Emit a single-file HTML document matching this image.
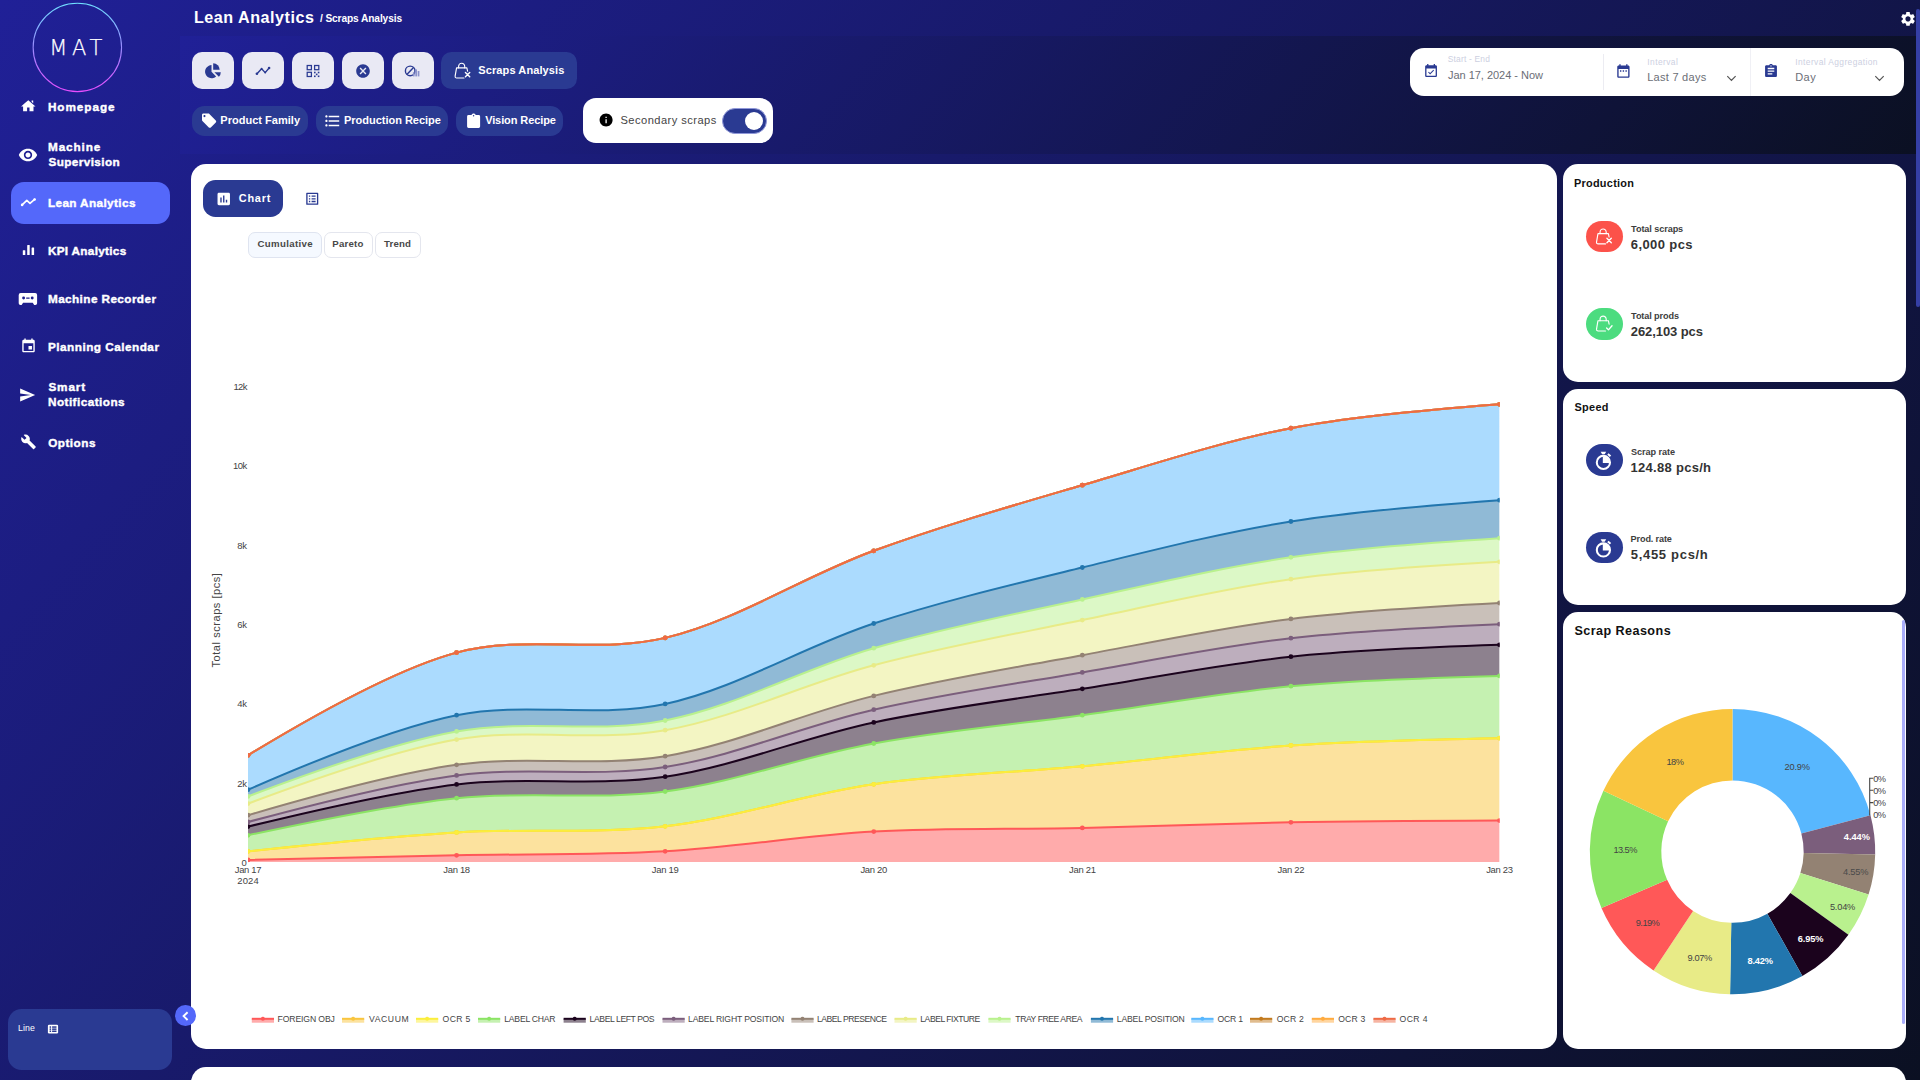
<!DOCTYPE html>
<html lang="en"><head><meta charset="utf-8"><title>Lean Analytics - Scraps Analysis</title>
<style>
*{box-sizing:border-box;margin:0;padding:0}
html,body{width:1920px;height:1080px;overflow:hidden}
body{position:relative;font-family:"Liberation Sans",sans-serif;background:linear-gradient(130.8deg,#202097 0%,#0b1022 100%);color:#fff}
.t{position:absolute;white-space:nowrap}
.i{position:absolute;display:block}
.abs{position:absolute}
.card{position:absolute;background:#fff;border-radius:14px}
</style></head><body>

<div class="abs" style="left:180px;top:36px;width:1740px;height:117.6px;background:linear-gradient(130.8deg,#202097 0%,#0b1022 100%)"></div>
<div class="abs" style="left:1916px;top:9px;width:4px;height:298px;background:#353fa5;border-radius:2px 2px 2px 2px"></div>
<svg class="i" style="left:30px;top:0px" width="96" height="96" viewBox="30 0 96 96"><defs><linearGradient id="lg" x1="0" y1="0" x2="0" y2="1"><stop offset="0" stop-color="#6fe0ff"/><stop offset="0.5" stop-color="#9a8cff"/><stop offset="1" stop-color="#e84dff"/></linearGradient></defs><circle cx="77.35" cy="47.45" r="44.2" fill="none" stroke="url(#lg)" stroke-width="1.1"/></svg>
<div class="t" style="left:49.14px;top:36px;height:24px;line-height:24px;font-size:21.01px;letter-spacing:4.790px;color:#fff;font-family:'DejaVu Sans Light','DejaVu Sans',sans-serif;font-weight:200;-webkit-text-stroke:0.25px #fff;">MAT</div>
<div class="abs" style="left:11px;top:182px;width:159.00px;height:41.80px;border-radius:13px;background:#5468fa;"></div>
<div class="t" style="left:47.94px;top:100px;height:13px;line-height:13px;font-size:11.75px;letter-spacing:0.939px;color:#fff;font-weight:700;-webkit-text-stroke:0.4px #fff;">Homepage</div>
<div class="t" style="left:47.94px;top:140px;height:13px;line-height:13px;font-size:11.75px;letter-spacing:0.903px;color:#fff;font-weight:700;-webkit-text-stroke:0.4px #fff;">Machine</div>
<div class="t" style="left:48.41px;top:155px;height:13px;line-height:13px;font-size:11.75px;letter-spacing:0.403px;color:#fff;font-weight:700;-webkit-text-stroke:0.4px #fff;">Supervision</div>
<div class="t" style="left:47.94px;top:196px;height:13px;line-height:13px;font-size:11.75px;letter-spacing:0.384px;color:#fff;font-weight:700;-webkit-text-stroke:0.4px #fff;">Lean Analytics</div>
<div class="t" style="left:47.94px;top:244px;height:13px;line-height:13px;font-size:11.75px;letter-spacing:0.300px;color:#fff;font-weight:700;-webkit-text-stroke:0.4px #fff;">KPI Analytics</div>
<div class="t" style="left:47.94px;top:292px;height:13px;line-height:13px;font-size:11.75px;letter-spacing:0.411px;color:#fff;font-weight:700;-webkit-text-stroke:0.4px #fff;">Machine Recorder</div>
<div class="t" style="left:47.94px;top:340px;height:13px;line-height:13px;font-size:11.75px;letter-spacing:0.492px;color:#fff;font-weight:700;-webkit-text-stroke:0.4px #fff;">Planning Calendar</div>
<div class="t" style="left:48.41px;top:380px;height:13px;line-height:13px;font-size:11.75px;letter-spacing:0.850px;color:#fff;font-weight:700;-webkit-text-stroke:0.4px #fff;">Smart</div>
<div class="t" style="left:47.94px;top:395px;height:13px;line-height:13px;font-size:11.75px;letter-spacing:0.461px;color:#fff;font-weight:700;-webkit-text-stroke:0.4px #fff;">Notifications</div>
<div class="t" style="left:48.23px;top:436px;height:13px;line-height:13px;font-size:11.75px;letter-spacing:0.471px;color:#fff;font-weight:700;-webkit-text-stroke:0.4px #fff;">Options</div>
<div class="abs" style="left:7.8px;top:1008.9px;width:164.10px;height:61.10px;border-radius:13.5px;background:#2a3a92;"></div>
<div class="t" style="left:18.05px;top:1023px;height:10px;line-height:10px;font-size:8.74px;letter-spacing:0.127px;color:#fff;">Line</div>
<div class="abs" style="left:175px;top:1005.1px;width:20.8px;height:20.8px;border-radius:50%;background:#5468fa;z-index:5"></div>
<div class="t" style="left:193.95px;top:8px;height:18px;line-height:18px;font-size:16.12px;letter-spacing:0.527px;color:#fff;font-weight:700;">Lean Analytics</div>
<div class="t" style="left:319.95px;top:13px;height:11px;line-height:11px;font-size:10.19px;letter-spacing:-0.107px;color:#fff;font-weight:700;">/ Scraps Analysis</div>
<div class="abs" style="left:192px;top:52px;width:42.00px;height:37.00px;border-radius:10px;background:#e9e9f4;"></div>
<div class="abs" style="left:242px;top:52px;width:42.00px;height:37.00px;border-radius:10px;background:#e9e9f4;"></div>
<div class="abs" style="left:292px;top:52px;width:42.00px;height:37.00px;border-radius:10px;background:#e9e9f4;"></div>
<div class="abs" style="left:342px;top:52px;width:42.00px;height:37.00px;border-radius:10px;background:#e9e9f4;"></div>
<div class="abs" style="left:392px;top:52px;width:42.00px;height:37.00px;border-radius:10px;background:#e9e9f4;"></div>
<div class="abs" style="left:440.9px;top:52px;width:135.80px;height:36.80px;border-radius:10.5px;background:#2a3a92;"></div>
<div class="t" style="left:478.32px;top:64px;height:12px;line-height:12px;font-size:11.02px;letter-spacing:0.094px;color:#fff;font-weight:700;">Scraps Analysis</div>
<div class="abs" style="left:192px;top:106.4px;width:116.20px;height:29.50px;border-radius:12.5px;background:#2a3a92;"></div>
<div class="abs" style="left:316.3px;top:106.4px;width:131.70px;height:29.50px;border-radius:12.5px;background:#2a3a92;"></div>
<div class="abs" style="left:455.9px;top:106.4px;width:107.20px;height:29.50px;border-radius:12.5px;background:#2a3a92;"></div>
<div class="t" style="left:220.28px;top:114px;height:12px;line-height:12px;font-size:11.02px;letter-spacing:0.015px;color:#fff;font-weight:700;">Product Family</div>
<div class="t" style="left:343.98px;top:114px;height:12px;line-height:12px;font-size:11.02px;letter-spacing:-0.026px;color:#fff;font-weight:700;">Production Recipe</div>
<div class="t" style="left:485.14px;top:114px;height:12px;line-height:12px;font-size:11.02px;letter-spacing:-0.107px;color:#fff;font-weight:700;">Vision Recipe</div>
<div class="abs" style="left:583.1px;top:97.8px;width:189.80px;height:44.80px;border-radius:13px;background:#fff;"></div>
<div class="t" style="left:620.50px;top:114px;height:12px;line-height:12px;font-size:11.13px;letter-spacing:0.446px;color:#444;">Secondary scraps</div>
<div class="abs" style="left:721.9px;top:108px;width:44.80px;height:26.00px;border-radius:13px;background:#2a3a92;border:1.6px solid #8f97d8;"></div>
<div class="abs" style="left:744.5px;top:111.7px;width:18.6px;height:18.6px;border-radius:50%;background:#fff"></div>
<div class="abs" style="left:1410.1px;top:47.9px;width:494.00px;height:47.90px;border-radius:14px;background:#fff;"></div>
<div class="abs" style="left:1603px;top:53.5px;width:1px;height:36px;background:#ececf2"></div>
<div class="abs" style="left:1750px;top:48px;width:1px;height:47.6px;background:#f0f0f5"></div>
<div class="t" style="left:1447.72px;top:54px;height:10px;line-height:10px;font-size:8.42px;letter-spacing:0.194px;color:#cdd0df;">Start - End</div>
<div class="t" style="left:1447.93px;top:69px;height:12px;line-height:12px;font-size:11.02px;letter-spacing:-0.025px;color:#6b6e76;">Jan 17, 2024 - Now</div>
<div class="t" style="left:1647.34px;top:57px;height:10px;line-height:10px;font-size:8.42px;letter-spacing:0.413px;color:#cdd0df;">Interval</div>
<div class="t" style="left:1647.22px;top:71px;height:12px;line-height:12px;font-size:11.02px;letter-spacing:0.260px;color:#6b6e76;">Last 7 days</div>
<div class="t" style="left:1795.34px;top:57px;height:10px;line-height:10px;font-size:8.42px;letter-spacing:0.388px;color:#cdd0df;">Interval Aggregation</div>
<div class="t" style="left:1795.22px;top:71px;height:12px;line-height:12px;font-size:11.02px;letter-spacing:0.433px;color:#6b6e76;">Day</div>
<div class="abs" style="left:191px;top:164px;width:1366.30px;height:885.20px;border-radius:15px;background:#fff;"></div>
<div class="abs" style="left:1563.2px;top:164px;width:343.10px;height:217.60px;border-radius:15px;background:#fff;"></div>
<div class="abs" style="left:1563.2px;top:388.6px;width:343.10px;height:216.30px;border-radius:15px;background:#fff;"></div>
<div class="abs" style="left:1563.2px;top:611.5px;width:343.10px;height:437.70px;border-radius:15px;background:#fff;"></div>
<div class="abs" style="left:191px;top:1067px;width:1715.30px;height:43.00px;border-radius:15px;background:#fff;"></div>
<div class="abs" style="left:1902.1px;top:620px;width:3.30px;height:404.00px;border-radius:1.6px;background:#a9adf9;"></div>
<div class="abs" style="left:203px;top:180px;width:80.00px;height:36.70px;border-radius:12.5px;background:#2a3a92;"></div>
<div class="t" style="left:238.76px;top:192px;height:12px;line-height:12px;font-size:10.92px;letter-spacing:0.773px;color:#fff;font-weight:700;">Chart</div>
<div class="abs" style="left:248.3px;top:232px;width:73.90px;height:26.00px;border-radius:7px;background:#f5f9ff;border:1px solid #dfe4f0;"></div>
<div class="abs" style="left:323.8px;top:232px;width:49.20px;height:26.00px;border-radius:7px;background:#fff;border:1px solid #e4e6ee;"></div>
<div class="abs" style="left:374.7px;top:232px;width:46.60px;height:26.00px;border-radius:7px;background:#fff;border:1px solid #e4e6ee;"></div>
<div class="t" style="left:257.41px;top:238px;height:11px;line-height:11px;font-size:9.67px;letter-spacing:0.362px;color:#484848;font-weight:700;">Cumulative</div>
<div class="t" style="left:332.37px;top:238px;height:11px;line-height:11px;font-size:9.67px;letter-spacing:0.179px;color:#484848;font-weight:700;">Pareto</div>
<div class="t" style="left:384.10px;top:238px;height:11px;line-height:11px;font-size:9.67px;letter-spacing:0.131px;color:#484848;font-weight:700;">Trend</div>
<div class="abs" style="left:191px;top:164px;width:1366px;height:880px">
<svg class="plot" width="1366" height="880" viewBox="191 164 1366 880" style="position:absolute;left:0;top:0">
<defs><clipPath id="pc"><rect x="248" y="380" width="1251.7" height="482.3"/></clipPath></defs>
<g clip-path="url(#pc)">
<path d="M248.00,860.00Q387.05,856.75 456.58,855.30C526.11,853.85 595.71,855.24 665.16,851.30C734.76,847.35 804.14,835.50 873.74,831.60C943.19,827.71 1012.80,829.45 1082.32,827.90C1151.85,826.35 1221.37,823.52 1290.90,822.30Q1360.42,821.08 1499.48,820.60L1499.48,862.0L248.00,862.0Z" fill="rgba(255,88,88,0.5)"/>
<path d="M248.00,851.30Q386.99,836.57 456.58,832.40C526.04,828.24 595.97,834.22 665.16,826.30C735.03,818.30 803.93,794.31 873.74,784.30C942.99,774.37 1012.81,772.76 1082.32,766.30C1151.87,759.83 1221.30,750.18 1290.90,745.50Q1360.35,740.83 1499.48,738.20L1499.48,820.60Q1360.42,821.08 1290.90,822.30C1221.37,823.52 1151.85,826.35 1082.32,827.90C1012.80,829.45 943.19,827.71 873.74,831.60C804.14,835.50 734.76,847.35 665.16,851.30C595.71,855.24 526.11,853.85 456.58,855.30Q387.05,856.75 248.00,860.00Z" fill="rgba(249,197,62,0.5)"/>
<path d="M248.00,851.30Q386.99,836.57 456.58,832.40C526.04,828.24 595.97,834.22 665.16,826.30C735.03,818.30 803.93,794.31 873.74,784.30C942.99,774.37 1012.81,772.76 1082.32,766.30C1151.87,759.83 1221.30,750.18 1290.90,745.50Q1360.35,740.83 1499.48,738.20L1499.48,738.20Q1360.35,740.83 1290.90,745.50C1221.30,750.18 1151.87,759.83 1082.32,766.30C1012.81,772.76 942.99,774.37 873.74,784.30C803.93,794.31 735.03,818.30 665.16,826.30C595.97,834.22 526.04,828.24 456.58,832.40Q386.99,836.57 248.00,851.30Z" fill="rgba(251,238,60,0.5)"/>
<path d="M248.00,835.30Q386.79,805.49 456.58,798.20C525.85,790.97 596.07,800.47 665.16,791.50C735.13,782.41 803.92,756.24 873.74,743.50C942.98,730.86 1012.80,724.75 1082.32,715.20C1151.85,705.65 1221.23,692.75 1290.90,686.20Q1360.28,679.68 1499.48,675.90L1499.48,738.20Q1360.35,740.83 1290.90,745.50C1221.30,750.18 1151.87,759.83 1082.32,766.30C1012.81,772.76 942.99,774.37 873.74,784.30C803.93,794.31 735.03,818.30 665.16,826.30C595.97,834.22 526.04,828.24 456.58,832.40Q386.99,836.57 248.00,851.30Z" fill="rgba(139,228,100,0.5)"/>
<path d="M248.00,826.60Q386.71,792.70 456.58,784.40C525.77,776.18 596.18,786.83 665.16,776.70C735.25,766.41 803.86,737.09 873.74,722.40C942.92,707.86 1012.77,699.75 1082.32,688.80C1151.83,677.85 1221.20,664.03 1290.90,656.70Q1360.25,649.40 1499.48,644.80L1499.48,675.90Q1360.28,679.68 1290.90,686.20C1221.23,692.75 1151.85,705.65 1082.32,715.20C1012.80,724.75 942.98,730.86 873.74,743.50C803.92,756.24 735.13,782.41 665.16,791.50C596.07,800.47 525.85,790.97 456.58,798.20Q386.79,805.49 248.00,835.30Z" fill="rgba(27,3,29,0.5)"/>
<path d="M248.00,822.00Q386.64,784.55 456.58,775.40C525.70,766.36 596.24,777.71 665.16,767.00C735.32,756.10 803.85,725.51 873.74,709.70C942.91,694.05 1012.75,684.32 1082.32,672.40C1151.80,660.49 1221.18,646.24 1290.90,638.20Q1360.24,630.21 1499.48,624.20L1499.48,644.80Q1360.25,649.40 1290.90,656.70C1221.20,664.03 1151.83,677.85 1082.32,688.80C1012.77,699.75 942.92,707.86 873.74,722.40C803.86,737.09 735.25,766.41 665.16,776.70C596.18,786.83 525.77,776.18 456.58,784.40Q386.71,792.70 248.00,826.60Z" fill="rgba(123,94,124,0.5)"/>
<path d="M248.00,815.20Q386.57,774.61 456.58,764.80C525.63,755.13 596.30,767.41 665.16,756.20C735.38,744.77 803.84,712.79 873.74,695.90C942.90,679.19 1012.73,668.04 1082.32,655.20C1151.78,642.38 1221.16,627.61 1290.90,618.90Q1360.22,610.25 1499.48,603.00L1499.48,624.20Q1360.24,630.21 1290.90,638.20C1221.18,646.24 1151.80,660.49 1082.32,672.40C1012.75,684.32 942.91,694.05 873.74,709.70C803.85,725.51 735.32,756.10 665.16,767.00C596.24,777.71 525.70,766.36 456.58,775.40Q386.64,784.55 248.00,822.00Z" fill="rgba(147,130,115,0.5)"/>
<path d="M248.00,803.60Q386.27,751.77 456.58,739.60C525.36,727.70 596.40,742.24 665.16,730.20C735.49,717.88 803.80,683.72 873.74,665.30C942.87,647.09 1012.72,634.46 1082.32,620.10C1151.78,605.77 1221.10,588.92 1290.90,579.20Q1360.16,569.55 1499.48,561.80L1499.48,603.00Q1360.22,610.25 1290.90,618.90C1221.16,627.61 1151.78,642.38 1082.32,655.20C1012.73,668.04 942.90,679.19 873.74,695.90C803.84,712.79 735.38,744.77 665.16,756.20C596.30,767.41 525.63,755.13 456.58,764.80Q386.57,774.61 248.00,815.20Z" fill="rgba(232,235,135,0.5)"/>
<path d="M248.00,796.40Q386.25,743.99 456.58,731.40C525.34,719.09 596.57,733.90 665.16,720.50C735.68,706.72 803.68,668.48 873.74,648.20C942.75,628.22 1012.68,614.57 1082.32,599.40C1151.73,584.28 1221.10,567.51 1290.90,557.30Q1360.15,547.17 1499.48,538.20L1499.48,561.80Q1360.16,569.55 1290.90,579.20C1221.10,588.92 1151.78,605.77 1082.32,620.10C1012.72,634.46 942.87,647.09 873.74,665.30C803.80,683.72 735.49,717.88 665.16,730.20C596.40,742.24 525.36,727.70 456.58,739.60Q386.27,751.77 248.00,803.60Z" fill="rgba(185,241,142,0.5)"/>
<path d="M248.00,789.70Q386.01,729.40 456.58,715.20C525.12,701.41 596.77,718.55 665.16,703.90C735.91,688.75 803.60,646.36 873.74,623.50C942.68,601.03 1012.60,584.54 1082.32,567.50C1151.66,550.56 1221.05,532.73 1290.90,521.50Q1360.11,510.37 1499.48,500.20L1499.48,538.20Q1360.15,547.17 1290.90,557.30C1221.10,567.51 1151.73,584.28 1082.32,599.40C1012.68,614.57 942.75,628.22 873.74,648.20C803.68,668.48 735.68,706.72 665.16,720.50C596.57,733.90 525.34,719.09 456.58,731.40Q386.25,743.99 248.00,796.40Z" fill="rgba(34,118,174,0.5)"/>
<path d="M248.00,755.30Q385.11,671.91 456.58,652.60C524.36,634.28 596.94,654.09 665.16,637.90C736.09,621.07 803.63,576.40 873.74,550.80C942.70,525.62 1012.60,505.68 1082.32,485.20C1151.65,464.83 1220.85,441.70 1290.90,428.20Q1359.92,414.90 1499.48,404.30L1499.48,500.20Q1360.11,510.37 1290.90,521.50C1221.05,532.73 1151.66,550.56 1082.32,567.50C1012.60,584.54 942.68,601.03 873.74,623.50C803.60,646.36 735.91,688.75 665.16,703.90C596.77,718.55 525.12,701.41 456.58,715.20Q386.01,729.40 248.00,789.70Z" fill="rgba(88,183,254,0.5)"/>
<path d="M248.00,755.30Q385.11,671.91 456.58,652.60C524.36,634.28 596.94,654.09 665.16,637.90C736.09,621.07 803.63,576.40 873.74,550.80C942.70,525.62 1012.60,505.68 1082.32,485.20C1151.65,464.83 1220.85,441.70 1290.90,428.20Q1359.92,414.90 1499.48,404.30L1499.48,404.30Q1359.92,414.90 1290.90,428.20C1220.85,441.70 1151.65,464.83 1082.32,485.20C1012.60,505.68 942.70,525.62 873.74,550.80C803.63,576.40 736.09,621.07 665.16,637.90C596.94,654.09 524.36,634.28 456.58,652.60Q385.11,671.91 248.00,755.30Z" fill="rgba(194,122,30,0.5)"/>
<path d="M248.00,755.30Q385.11,671.91 456.58,652.60C524.36,634.28 596.94,654.09 665.16,637.90C736.09,621.07 803.63,576.40 873.74,550.80C942.70,525.62 1012.60,505.68 1082.32,485.20C1151.65,464.83 1220.85,441.70 1290.90,428.20Q1359.92,414.90 1499.48,404.30L1499.48,404.30Q1359.92,414.90 1290.90,428.20C1220.85,441.70 1151.65,464.83 1082.32,485.20C1012.60,505.68 942.70,525.62 873.74,550.80C803.63,576.40 736.09,621.07 665.16,637.90C596.94,654.09 524.36,634.28 456.58,652.60Q385.11,671.91 248.00,755.30Z" fill="rgba(255,171,64,0.5)"/>
<path d="M248.00,755.30Q385.11,671.91 456.58,652.60C524.36,634.28 596.94,654.09 665.16,637.90C736.09,621.07 803.63,576.40 873.74,550.80C942.70,525.62 1012.60,505.68 1082.32,485.20C1151.65,464.83 1220.85,441.70 1290.90,428.20Q1359.92,414.90 1499.48,404.30L1499.48,404.30Q1359.92,414.90 1290.90,428.20C1220.85,441.70 1151.65,464.83 1082.32,485.20C1012.60,505.68 942.70,525.62 873.74,550.80C803.63,576.40 736.09,621.07 665.16,637.90C596.94,654.09 524.36,634.28 456.58,652.60Q385.11,671.91 248.00,755.30Z" fill="rgba(238,106,69,0.5)"/>
<path d="M248.00,860.00Q387.05,856.75 456.58,855.30C526.11,853.85 595.71,855.24 665.16,851.30C734.76,847.35 804.14,835.50 873.74,831.60C943.19,827.71 1012.80,829.45 1082.32,827.90C1151.85,826.35 1221.37,823.52 1290.90,822.30Q1360.42,821.08 1499.48,820.60" fill="none" stroke="#ff5858" stroke-width="2"/>
<g fill="#ff5858"><circle cx="248.00" cy="860.00" r="2.4"/><circle cx="456.58" cy="855.30" r="2.4"/><circle cx="665.16" cy="851.30" r="2.4"/><circle cx="873.74" cy="831.60" r="2.4"/><circle cx="1082.32" cy="827.90" r="2.4"/><circle cx="1290.90" cy="822.30" r="2.4"/><circle cx="1499.48" cy="820.60" r="2.4"/></g>
<path d="M248.00,851.30Q386.99,836.57 456.58,832.40C526.04,828.24 595.97,834.22 665.16,826.30C735.03,818.30 803.93,794.31 873.74,784.30C942.99,774.37 1012.81,772.76 1082.32,766.30C1151.87,759.83 1221.30,750.18 1290.90,745.50Q1360.35,740.83 1499.48,738.20" fill="none" stroke="#f9c53e" stroke-width="2"/>
<g fill="#f9c53e"><circle cx="248.00" cy="851.30" r="2.4"/><circle cx="456.58" cy="832.40" r="2.4"/><circle cx="665.16" cy="826.30" r="2.4"/><circle cx="873.74" cy="784.30" r="2.4"/><circle cx="1082.32" cy="766.30" r="2.4"/><circle cx="1290.90" cy="745.50" r="2.4"/><circle cx="1499.48" cy="738.20" r="2.4"/></g>
<path d="M248.00,851.30Q386.99,836.57 456.58,832.40C526.04,828.24 595.97,834.22 665.16,826.30C735.03,818.30 803.93,794.31 873.74,784.30C942.99,774.37 1012.81,772.76 1082.32,766.30C1151.87,759.83 1221.30,750.18 1290.90,745.50Q1360.35,740.83 1499.48,738.20" fill="none" stroke="#fbee3c" stroke-width="2"/>
<g fill="#fbee3c"><circle cx="248.00" cy="851.30" r="2.4"/><circle cx="456.58" cy="832.40" r="2.4"/><circle cx="665.16" cy="826.30" r="2.4"/><circle cx="873.74" cy="784.30" r="2.4"/><circle cx="1082.32" cy="766.30" r="2.4"/><circle cx="1290.90" cy="745.50" r="2.4"/><circle cx="1499.48" cy="738.20" r="2.4"/></g>
<path d="M248.00,835.30Q386.79,805.49 456.58,798.20C525.85,790.97 596.07,800.47 665.16,791.50C735.13,782.41 803.92,756.24 873.74,743.50C942.98,730.86 1012.80,724.75 1082.32,715.20C1151.85,705.65 1221.23,692.75 1290.90,686.20Q1360.28,679.68 1499.48,675.90" fill="none" stroke="#8be464" stroke-width="2"/>
<g fill="#8be464"><circle cx="248.00" cy="835.30" r="2.4"/><circle cx="456.58" cy="798.20" r="2.4"/><circle cx="665.16" cy="791.50" r="2.4"/><circle cx="873.74" cy="743.50" r="2.4"/><circle cx="1082.32" cy="715.20" r="2.4"/><circle cx="1290.90" cy="686.20" r="2.4"/><circle cx="1499.48" cy="675.90" r="2.4"/></g>
<path d="M248.00,826.60Q386.71,792.70 456.58,784.40C525.77,776.18 596.18,786.83 665.16,776.70C735.25,766.41 803.86,737.09 873.74,722.40C942.92,707.86 1012.77,699.75 1082.32,688.80C1151.83,677.85 1221.20,664.03 1290.90,656.70Q1360.25,649.40 1499.48,644.80" fill="none" stroke="#1b031d" stroke-width="2"/>
<g fill="#1b031d"><circle cx="248.00" cy="826.60" r="2.4"/><circle cx="456.58" cy="784.40" r="2.4"/><circle cx="665.16" cy="776.70" r="2.4"/><circle cx="873.74" cy="722.40" r="2.4"/><circle cx="1082.32" cy="688.80" r="2.4"/><circle cx="1290.90" cy="656.70" r="2.4"/><circle cx="1499.48" cy="644.80" r="2.4"/></g>
<path d="M248.00,822.00Q386.64,784.55 456.58,775.40C525.70,766.36 596.24,777.71 665.16,767.00C735.32,756.10 803.85,725.51 873.74,709.70C942.91,694.05 1012.75,684.32 1082.32,672.40C1151.80,660.49 1221.18,646.24 1290.90,638.20Q1360.24,630.21 1499.48,624.20" fill="none" stroke="#7b5e7c" stroke-width="2"/>
<g fill="#7b5e7c"><circle cx="248.00" cy="822.00" r="2.4"/><circle cx="456.58" cy="775.40" r="2.4"/><circle cx="665.16" cy="767.00" r="2.4"/><circle cx="873.74" cy="709.70" r="2.4"/><circle cx="1082.32" cy="672.40" r="2.4"/><circle cx="1290.90" cy="638.20" r="2.4"/><circle cx="1499.48" cy="624.20" r="2.4"/></g>
<path d="M248.00,815.20Q386.57,774.61 456.58,764.80C525.63,755.13 596.30,767.41 665.16,756.20C735.38,744.77 803.84,712.79 873.74,695.90C942.90,679.19 1012.73,668.04 1082.32,655.20C1151.78,642.38 1221.16,627.61 1290.90,618.90Q1360.22,610.25 1499.48,603.00" fill="none" stroke="#938273" stroke-width="2"/>
<g fill="#938273"><circle cx="248.00" cy="815.20" r="2.4"/><circle cx="456.58" cy="764.80" r="2.4"/><circle cx="665.16" cy="756.20" r="2.4"/><circle cx="873.74" cy="695.90" r="2.4"/><circle cx="1082.32" cy="655.20" r="2.4"/><circle cx="1290.90" cy="618.90" r="2.4"/><circle cx="1499.48" cy="603.00" r="2.4"/></g>
<path d="M248.00,803.60Q386.27,751.77 456.58,739.60C525.36,727.70 596.40,742.24 665.16,730.20C735.49,717.88 803.80,683.72 873.74,665.30C942.87,647.09 1012.72,634.46 1082.32,620.10C1151.78,605.77 1221.10,588.92 1290.90,579.20Q1360.16,569.55 1499.48,561.80" fill="none" stroke="#e8eb87" stroke-width="2"/>
<g fill="#e8eb87"><circle cx="248.00" cy="803.60" r="2.4"/><circle cx="456.58" cy="739.60" r="2.4"/><circle cx="665.16" cy="730.20" r="2.4"/><circle cx="873.74" cy="665.30" r="2.4"/><circle cx="1082.32" cy="620.10" r="2.4"/><circle cx="1290.90" cy="579.20" r="2.4"/><circle cx="1499.48" cy="561.80" r="2.4"/></g>
<path d="M248.00,796.40Q386.25,743.99 456.58,731.40C525.34,719.09 596.57,733.90 665.16,720.50C735.68,706.72 803.68,668.48 873.74,648.20C942.75,628.22 1012.68,614.57 1082.32,599.40C1151.73,584.28 1221.10,567.51 1290.90,557.30Q1360.15,547.17 1499.48,538.20" fill="none" stroke="#b9f18e" stroke-width="2"/>
<g fill="#b9f18e"><circle cx="248.00" cy="796.40" r="2.4"/><circle cx="456.58" cy="731.40" r="2.4"/><circle cx="665.16" cy="720.50" r="2.4"/><circle cx="873.74" cy="648.20" r="2.4"/><circle cx="1082.32" cy="599.40" r="2.4"/><circle cx="1290.90" cy="557.30" r="2.4"/><circle cx="1499.48" cy="538.20" r="2.4"/></g>
<path d="M248.00,789.70Q386.01,729.40 456.58,715.20C525.12,701.41 596.77,718.55 665.16,703.90C735.91,688.75 803.60,646.36 873.74,623.50C942.68,601.03 1012.60,584.54 1082.32,567.50C1151.66,550.56 1221.05,532.73 1290.90,521.50Q1360.11,510.37 1499.48,500.20" fill="none" stroke="#2276ae" stroke-width="2"/>
<g fill="#2276ae"><circle cx="248.00" cy="789.70" r="2.4"/><circle cx="456.58" cy="715.20" r="2.4"/><circle cx="665.16" cy="703.90" r="2.4"/><circle cx="873.74" cy="623.50" r="2.4"/><circle cx="1082.32" cy="567.50" r="2.4"/><circle cx="1290.90" cy="521.50" r="2.4"/><circle cx="1499.48" cy="500.20" r="2.4"/></g>
<path d="M248.00,755.30Q385.11,671.91 456.58,652.60C524.36,634.28 596.94,654.09 665.16,637.90C736.09,621.07 803.63,576.40 873.74,550.80C942.70,525.62 1012.60,505.68 1082.32,485.20C1151.65,464.83 1220.85,441.70 1290.90,428.20Q1359.92,414.90 1499.48,404.30" fill="none" stroke="#58b7fe" stroke-width="2"/>
<g fill="#58b7fe"><circle cx="248.00" cy="755.30" r="2.4"/><circle cx="456.58" cy="652.60" r="2.4"/><circle cx="665.16" cy="637.90" r="2.4"/><circle cx="873.74" cy="550.80" r="2.4"/><circle cx="1082.32" cy="485.20" r="2.4"/><circle cx="1290.90" cy="428.20" r="2.4"/><circle cx="1499.48" cy="404.30" r="2.4"/></g>
<path d="M248.00,755.30Q385.11,671.91 456.58,652.60C524.36,634.28 596.94,654.09 665.16,637.90C736.09,621.07 803.63,576.40 873.74,550.80C942.70,525.62 1012.60,505.68 1082.32,485.20C1151.65,464.83 1220.85,441.70 1290.90,428.20Q1359.92,414.90 1499.48,404.30" fill="none" stroke="#c27a1e" stroke-width="2"/>
<g fill="#c27a1e"><circle cx="248.00" cy="755.30" r="2.4"/><circle cx="456.58" cy="652.60" r="2.4"/><circle cx="665.16" cy="637.90" r="2.4"/><circle cx="873.74" cy="550.80" r="2.4"/><circle cx="1082.32" cy="485.20" r="2.4"/><circle cx="1290.90" cy="428.20" r="2.4"/><circle cx="1499.48" cy="404.30" r="2.4"/></g>
<path d="M248.00,755.30Q385.11,671.91 456.58,652.60C524.36,634.28 596.94,654.09 665.16,637.90C736.09,621.07 803.63,576.40 873.74,550.80C942.70,525.62 1012.60,505.68 1082.32,485.20C1151.65,464.83 1220.85,441.70 1290.90,428.20Q1359.92,414.90 1499.48,404.30" fill="none" stroke="#ffab40" stroke-width="2"/>
<g fill="#ffab40"><circle cx="248.00" cy="755.30" r="2.4"/><circle cx="456.58" cy="652.60" r="2.4"/><circle cx="665.16" cy="637.90" r="2.4"/><circle cx="873.74" cy="550.80" r="2.4"/><circle cx="1082.32" cy="485.20" r="2.4"/><circle cx="1290.90" cy="428.20" r="2.4"/><circle cx="1499.48" cy="404.30" r="2.4"/></g>
<path d="M248.00,755.30Q385.11,671.91 456.58,652.60C524.36,634.28 596.94,654.09 665.16,637.90C736.09,621.07 803.63,576.40 873.74,550.80C942.70,525.62 1012.60,505.68 1082.32,485.20C1151.65,464.83 1220.85,441.70 1290.90,428.20Q1359.92,414.90 1499.48,404.30" fill="none" stroke="#ee6a45" stroke-width="2"/>
<g fill="#ee6a45"><circle cx="248.00" cy="755.30" r="2.4"/><circle cx="456.58" cy="652.60" r="2.4"/><circle cx="665.16" cy="637.90" r="2.4"/><circle cx="873.74" cy="550.80" r="2.4"/><circle cx="1082.32" cy="485.20" r="2.4"/><circle cx="1290.90" cy="428.20" r="2.4"/><circle cx="1499.48" cy="404.30" r="2.4"/></g>
</g>
</svg>
</div>
<div class="t" style="left:241.57px;top:857px;height:11px;line-height:11px;font-size:9.46px;letter-spacing:0.000px;color:#444;">0</div>
<div class="t" style="left:237.23px;top:778px;height:11px;line-height:11px;font-size:9.46px;letter-spacing:-0.255px;color:#444;">2k</div>
<div class="t" style="left:237.21px;top:698px;height:11px;line-height:11px;font-size:9.46px;letter-spacing:-0.238px;color:#444;">4k</div>
<div class="t" style="left:237.23px;top:619px;height:11px;line-height:11px;font-size:9.46px;letter-spacing:-0.255px;color:#444;">6k</div>
<div class="t" style="left:237.32px;top:540px;height:11px;line-height:11px;font-size:9.46px;letter-spacing:-0.349px;color:#444;">8k</div>
<div class="t" style="left:233.11px;top:460px;height:11px;line-height:11px;font-size:9.46px;letter-spacing:-0.550px;color:#444;">10k</div>
<div class="t" style="left:233.41px;top:381px;height:11px;line-height:11px;font-size:9.46px;letter-spacing:-0.550px;color:#444;">12k</div>
<div class="t" style="left:234.71px;top:864px;height:11px;line-height:11px;font-size:9.46px;letter-spacing:-0.302px;color:#444;">Jan 17</div>
<div class="t" style="left:443.29px;top:864px;height:11px;line-height:11px;font-size:9.46px;letter-spacing:-0.312px;color:#444;">Jan 18</div>
<div class="t" style="left:651.87px;top:864px;height:11px;line-height:11px;font-size:9.46px;letter-spacing:-0.302px;color:#444;">Jan 19</div>
<div class="t" style="left:860.45px;top:864px;height:11px;line-height:11px;font-size:9.46px;letter-spacing:-0.321px;color:#444;">Jan 20</div>
<div class="t" style="left:1069.03px;top:864px;height:11px;line-height:11px;font-size:9.46px;letter-spacing:-0.302px;color:#444;">Jan 21</div>
<div class="t" style="left:1277.61px;top:864px;height:11px;line-height:11px;font-size:9.46px;letter-spacing:-0.302px;color:#444;">Jan 22</div>
<div class="t" style="left:1486.19px;top:864px;height:11px;line-height:11px;font-size:9.46px;letter-spacing:-0.312px;color:#444;">Jan 23</div>
<div class="t" style="left:237.23px;top:875px;height:11px;line-height:11px;font-size:9.46px;letter-spacing:0.154px;color:#444;">2024</div>
<div class="t" style="left:215.6px;top:620.4px;width:0;height:0;"><div class="t" style="transform:translate(-50%,-50%) rotate(-90deg);font-size:11px;color:#444;letter-spacing:0.555px;left:0;top:0;line-height:12px">Total scraps [pcs]</div></div>
<div class="t" style="left:277.61px;top:1014px;height:10px;line-height:10px;font-size:8.63px;letter-spacing:-0.122px;color:#444;">FOREIGN OBJ</div>
<div class="t" style="left:369.00px;top:1014px;height:10px;line-height:10px;font-size:8.63px;letter-spacing:0.585px;color:#444;">VACUUM</div>
<div class="t" style="left:442.61px;top:1014px;height:10px;line-height:10px;font-size:8.63px;letter-spacing:0.342px;color:#444;">OCR 5</div>
<div class="t" style="left:504.31px;top:1014px;height:10px;line-height:10px;font-size:8.63px;letter-spacing:-0.238px;color:#444;">LABEL CHAR</div>
<div class="t" style="left:589.61px;top:1014px;height:10px;line-height:10px;font-size:8.63px;letter-spacing:-0.421px;color:#444;">LABEL LEFT POS</div>
<div class="t" style="left:688.01px;top:1014px;height:10px;line-height:10px;font-size:8.63px;letter-spacing:-0.153px;color:#444;">LABEL RIGHT POSITION</div>
<div class="t" style="left:816.91px;top:1014px;height:10px;line-height:10px;font-size:8.63px;letter-spacing:-0.476px;color:#444;">LABEL PRESENCE</div>
<div class="t" style="left:920.31px;top:1014px;height:10px;line-height:10px;font-size:8.63px;letter-spacing:-0.484px;color:#444;">LABEL FIXTURE</div>
<div class="t" style="left:1015.33px;top:1014px;height:10px;line-height:10px;font-size:8.63px;letter-spacing:-0.452px;color:#444;">TRAY FREE AREA</div>
<div class="t" style="left:1116.81px;top:1014px;height:10px;line-height:10px;font-size:8.63px;letter-spacing:-0.171px;color:#444;">LABEL POSITION</div>
<div class="t" style="left:1217.51px;top:1014px;height:10px;line-height:10px;font-size:8.63px;letter-spacing:-0.172px;color:#444;">OCR 1</div>
<div class="t" style="left:1276.71px;top:1014px;height:10px;line-height:10px;font-size:8.63px;letter-spacing:0.178px;color:#444;">OCR 2</div>
<div class="t" style="left:1338.21px;top:1014px;height:10px;line-height:10px;font-size:8.63px;letter-spacing:0.192px;color:#444;">OCR 3</div>
<div class="t" style="left:1399.61px;top:1014px;height:10px;line-height:10px;font-size:8.63px;letter-spacing:0.385px;color:#444;">OCR 4</div>
<div class="t" style="left:1573.99px;top:177px;height:12px;line-height:12px;font-size:10.92px;letter-spacing:0.262px;color:#111;font-weight:700;">Production</div>
<div class="t" style="left:1574.43px;top:401px;height:12px;line-height:12px;font-size:10.92px;letter-spacing:0.331px;color:#111;font-weight:700;">Speed</div>
<div class="t" style="left:1574.39px;top:624px;height:14px;line-height:14px;font-size:12.58px;letter-spacing:0.447px;color:#111;font-weight:700;">Scrap Reasons</div>
<div class="abs" style="left:1586.1px;top:220.9px;width:36.70px;height:31.10px;border-radius:16px;background:#fc524a;"></div>
<div class="t" style="left:1631.11px;top:224px;height:10px;line-height:10px;font-size:9.15px;letter-spacing:-0.091px;color:#3d3d3d;font-weight:700;">Total scraps</div>
<div class="t" style="left:1630.75px;top:237px;height:15px;line-height:15px;font-size:13.0px;letter-spacing:0.401px;color:#333;font-weight:700;">6,000 pcs</div>
<div class="abs" style="left:1586.1px;top:308px;width:36.70px;height:31.60px;border-radius:16px;background:#4cdc7f;"></div>
<div class="t" style="left:1631.11px;top:311px;height:10px;line-height:10px;font-size:9.15px;letter-spacing:-0.112px;color:#3d3d3d;font-weight:700;">Total prods</div>
<div class="t" style="left:1630.81px;top:324px;height:15px;line-height:15px;font-size:13.0px;letter-spacing:-0.085px;color:#333;font-weight:700;">262,103 pcs</div>
<div class="abs" style="left:1586.1px;top:443.9px;width:36.70px;height:31.80px;border-radius:16px;background:#2a3a92;"></div>
<div class="t" style="left:1630.97px;top:447px;height:10px;line-height:10px;font-size:9.15px;letter-spacing:-0.049px;color:#3d3d3d;font-weight:700;">Scrap rate</div>
<div class="t" style="left:1630.42px;top:460px;height:15px;line-height:15px;font-size:13.0px;letter-spacing:0.301px;color:#333;font-weight:700;">124.88 pcs/h</div>
<div class="abs" style="left:1586.1px;top:531.5px;width:36.70px;height:31.70px;border-radius:16px;background:#2a3a92;"></div>
<div class="t" style="left:1630.61px;top:534px;height:10px;line-height:10px;font-size:9.15px;letter-spacing:-0.146px;color:#3d3d3d;font-weight:700;">Prod. rate</div>
<div class="t" style="left:1630.81px;top:547px;height:15px;line-height:15px;font-size:13.0px;letter-spacing:0.690px;color:#333;font-weight:700;">5,455 pcs/h</div>
<svg class="i" style="left:1570px;top:690px" width="336" height="330" viewBox="1570 690 336 330"><path d="M1732.50,708.90A142.7,142.7 0 0 1 1870.46,815.14L1801.34,833.41A71.2,71.2 0 0 0 1732.50,780.40Z" fill="#58b7fe"/><path d="M1870.46,815.14A142.7,142.7 0 0 1 1875.17,854.51L1803.69,853.05A71.2,71.2 0 0 0 1801.34,833.41Z" fill="#7b5e7c"/><path d="M1875.17,854.51A142.7,142.7 0 0 1 1868.57,894.60L1800.39,873.06A71.2,71.2 0 0 0 1803.69,853.05Z" fill="#938273"/><path d="M1868.57,894.60A142.7,142.7 0 0 1 1848.42,934.82L1790.34,893.12A71.2,71.2 0 0 0 1800.39,873.06Z" fill="#b9f18e"/><path d="M1848.42,934.82A142.7,142.7 0 0 1 1802.38,976.02L1767.37,913.68A71.2,71.2 0 0 0 1790.34,893.12Z" fill="#1b031d"/><path d="M1802.38,976.02A142.7,142.7 0 0 1 1730.08,994.28L1731.29,922.79A71.2,71.2 0 0 0 1767.37,913.68Z" fill="#2276ae"/><path d="M1730.08,994.28A142.7,142.7 0 0 1 1653.52,970.45L1693.09,910.90A71.2,71.2 0 0 0 1731.29,922.79Z" fill="#e8eb87"/><path d="M1653.52,970.45A142.7,142.7 0 0 1 1601.47,908.12L1667.12,879.80A71.2,71.2 0 0 0 1693.09,910.90Z" fill="#ff5858"/><path d="M1601.47,908.12A142.7,142.7 0 0 1 1603.42,790.75L1668.10,821.24A71.2,71.2 0 0 0 1667.12,879.80Z" fill="#8be464"/><path d="M1603.42,790.75A142.7,142.7 0 0 1 1732.50,708.90L1732.50,780.40A71.2,71.2 0 0 0 1668.10,821.24Z" fill="#f9c53e"/><path d="M1869.7 815.6V778.3h3.6M1869.7 790.3h3.6M1869.7 802.6h3.6" fill="none" stroke="#444" stroke-width="1.1"/></svg>
<div class="t" style="left:1784.54px;top:762px;height:10px;line-height:10px;font-size:9.26px;letter-spacing:-0.191px;color:#444;">20.9%</div>
<div class="t" style="left:1666.50px;top:757px;height:10px;line-height:10px;font-size:9.26px;letter-spacing:-0.550px;color:#444;">18%</div>
<div class="t" style="left:1613.39px;top:845px;height:10px;line-height:10px;font-size:9.26px;letter-spacing:-0.550px;color:#444;">13.5%</div>
<div class="t" style="left:1635.78px;top:918px;height:10px;line-height:10px;font-size:9.26px;letter-spacing:-0.550px;color:#444;">9.19%</div>
<div class="t" style="left:1687.38px;top:953px;height:10px;line-height:10px;font-size:9.26px;letter-spacing:-0.353px;color:#444;">9.07%</div>
<div class="t" style="left:1747.52px;top:956px;height:10px;line-height:10px;font-size:9.26px;letter-spacing:-0.211px;color:#fff;font-weight:700;">8.42%</div>
<div class="t" style="left:1797.78px;top:934px;height:10px;line-height:10px;font-size:9.26px;letter-spacing:-0.124px;color:#fff;font-weight:700;">6.95%</div>
<div class="t" style="left:1829.93px;top:902px;height:10px;line-height:10px;font-size:9.26px;letter-spacing:-0.214px;color:#444;">5.04%</div>
<div class="t" style="left:1843.01px;top:867px;height:10px;line-height:10px;font-size:9.26px;letter-spacing:-0.211px;color:#4a4a4a;">4.55%</div>
<div class="t" style="left:1843.86px;top:832px;height:10px;line-height:10px;font-size:9.26px;letter-spacing:-0.045px;color:#fff;font-weight:700;">4.44%</div>
<div class="t" style="left:1873.28px;top:774px;height:10px;line-height:10px;font-size:9.26px;letter-spacing:-0.550px;color:#444;">0%</div>
<div class="t" style="left:1873.28px;top:786px;height:10px;line-height:10px;font-size:9.26px;letter-spacing:-0.550px;color:#444;">0%</div>
<div class="t" style="left:1873.28px;top:798px;height:10px;line-height:10px;font-size:9.26px;letter-spacing:-0.550px;color:#444;">0%</div>
<div class="t" style="left:1873.28px;top:810px;height:10px;line-height:10px;font-size:9.26px;letter-spacing:-0.550px;color:#444;">0%</div>
<svg class="i" style="left:0;top:0;z-index:6" width="1920" height="1080" viewBox="0 0 1920 1080"><path fill="#fff" d="M28.3 100.2l7.2 6.2h-2v4.8h-4v-3.6h-2.4v3.6h-4v-4.8h-2l3.6-3.1zM31.6 100.6h1.6v2.6l-1.6-1.4z"/>
<path transform="translate(17.98 144.93) scale(0.8348)" fill="#fff"  d="M12 4.5C7 4.5 2.73 7.61 1 12c1.73 4.39 6 7.5 11 7.5s9.27-3.11 11-7.5c-1.73-4.39-6-7.5-11-7.5zM12 17c-2.76 0-5-2.24-5-5s2.24-5 5-5 5 2.24 5 5-2.24 5-5 5zm0-8c-1.66 0-3 1.34-3 3s1.34 3 3 3 3-1.34 3-3-1.34-3-3-3z"/>
<path d="M22.2 204.8l4.6-4.4 3.2 3 4.6-4" fill="none" stroke="#fff" stroke-width="1.7" stroke-linejoin="round" stroke-linecap="round"/><circle cx="22.1" cy="204.9" r="1.3" fill="#fff"/><circle cx="34.6" cy="199.5" r="1.3" fill="#fff"/>
<g fill="#fff"><rect x="22.8" y="250.2" width="2.5" height="4.9" rx=".4"/><rect x="27.2" y="245" width="2.5" height="10.1" rx=".4"/><rect x="31.6" y="247.6" width="2.5" height="7.5" rx=".4"/></g>
<path fill="#fff" fill-rule="evenodd" d="M20.7 293h14.4a2 2 0 0 1 2 2v8.2a1.8 1.8 0 0 1-1.8 1.8h-1.1l-1.5-2.3h-9.6l-1.5 2.3h-1.1a1.8 1.8 0 0 1-1.8-1.8V295a2 2 0 0 1 2-2zM23.6 296.6a1.45 1.45 0 1 0 0 2.9 1.45 1.45 0 0 0 0-2.9zm8.6 0a1.45 1.45 0 1 0 0 2.9 1.45 1.45 0 0 0 0-2.9zM26.2 297.5v1.2h3.4v-1.2z"/>
<path transform="translate(20.18 337.72) scale(0.6936)" fill="#fff"  d="M17 12h-5v5h5v-5zM16 1v2H8V1H6v2H5c-1.11 0-1.99.9-1.99 2L3 19c0 1.1.89 2 2 2h14c1.1 0 2-.9 2-2V5c0-1.1-.9-2-2-2h-1V1h-2zm3 18H5V8h14v11z"/>
<path transform="translate(18.72 386.43) scale(0.7143)" fill="#fff"  d="M2.01 21L23 12 2.01 3 2 10l15 2-15 2z"/>
<path transform="translate(20.54 433.89) scale(0.6645)" fill="#fff"  d="M22.7 19l-9.1-9.1c.9-2.3.4-5-1.5-6.9-2-2-5-2.4-7.4-1.3L9 6 6 9 1.6 4.7C.4 7.1.9 10.1 2.9 12.1c1.9 1.9 4.6 2.4 6.9 1.5l9.1 9.1c.4.4 1 .4 1.4 0l2.3-2.3c.5-.4.5-1.1.1-1.4z"/>
<rect x="47.9" y="1024.7" width="10.2" height="8.8" rx="1.2" fill="#fff"/><g fill="#2a3a92"><rect x="49.6" y="1026.3" width="1.5" height="1.5"/><rect x="49.6" y="1028.4" width="1.5" height="1.5"/><rect x="49.6" y="1030.5" width="1.5" height="1.5"/><rect x="52.1" y="1026.3" width="4.4" height="1.5"/><rect x="52.1" y="1028.4" width="4.4" height="1.5"/><rect x="52.1" y="1030.5" width="4.4" height="1.5"/></g>
<path d="M187.6 1012.2l-4 3.9 4 3.9" fill="none" stroke="#fff" stroke-width="1.9"/>
<path transform="translate(1899.35 10.30) scale(0.7206)" fill="#fff"  d="M19.14 12.94c.04-.3.06-.61.06-.94 0-.32-.02-.64-.07-.94l2.03-1.58c.18-.14.23-.41.12-.61l-1.92-3.32c-.12-.22-.37-.29-.59-.22l-2.39.96c-.5-.38-1.03-.7-1.62-.94l-.36-2.54c-.04-.24-.24-.41-.48-.41h-3.84c-.24 0-.43.17-.47.41l-.36 2.54c-.59.24-1.13.57-1.62.94l-2.39-.96c-.22-.08-.47 0-.59.22L2.74 8.87c-.12.21-.08.47.12.61l2.03 1.58c-.05.3-.09.63-.09.94s.02.64.07.94l-2.03 1.58c-.18.14-.23.41-.12.61l1.92 3.32c.12.22.37.29.59.22l2.39-.96c.5.38 1.03.7 1.62.94l.36 2.54c.05.24.24.41.48.41h3.84c.24 0 .44-.17.47-.41l.36-2.54c.59-.24 1.13-.56 1.62-.94l2.39.96c.22.08.47 0 .59-.22l1.92-3.32c.12-.22.07-.47-.12-.61l-2.01-1.58zM12 15.6c-1.98 0-3.6-1.62-3.6-3.6s1.62-3.6 3.6-3.6 3.6 1.62 3.6 3.6-1.62 3.6-3.6 3.6z"/>
<g fill="#2a3a92"><path d="M211.5 65.1v6.6l4.6 4.7a6.55 6.55 0 1 1-4.6-11.3z"/><path d="M213.2 63.3a6.5 6.5 0 0 1 6.5 6.5h-6.5z"/><path d="M214.4 72.2h6.4a6.5 6.5 0 0 1-1.9 4.5z"/></g>
<path d="M257 73.7l4.6-5 3.6 3.9 3.9-4.6" fill="none" stroke="#2a3a92" stroke-width="1.4" stroke-linejoin="round"/><g fill="#2a3a92"><circle cx="256.9" cy="73.8" r="1.3"/><circle cx="269.1" cy="68" r="1.3"/><circle cx="261.6" cy="68.7" r=".9"/><circle cx="265.2" cy="72.6" r=".9"/></g>
<g fill="none" stroke="#2a3a92" stroke-width="1.25"><rect x="307.2" y="65.5" width="4.2" height="4.2"/><rect x="314.6" y="65.5" width="4.2" height="4.2"/><rect x="307.2" y="72.3" width="4.2" height="4.2"/></g><g fill="#2a3a92"><rect x="314" y="71.7" width="1.6" height="1.6"/><rect x="317.8" y="71.7" width="1.6" height="1.6"/><rect x="315.9" y="73.6" width="1.6" height="1.6"/><rect x="314" y="75.5" width="1.6" height="1.6"/><rect x="317.8" y="75.5" width="1.6" height="1.6"/></g>
<path transform="translate(354.84 62.84) scale(0.6800)" fill="#2a3a92"  d="M12 2C6.47 2 2 6.47 2 12s4.47 10 10 10 10-4.47 10-10S17.53 2 12 2zm5 13.59L15.59 17 12 13.41 8.41 17 7 15.59 10.59 12 7 8.41 8.41 7 12 10.59 15.59 7 17 8.41 13.41 12 17 15.59z"/>
<circle cx="410.2" cy="70.9" r="4.8" fill="none" stroke="#2a3a92" stroke-width="1.4"/><path d="M406.9 74.4l6.6-7" stroke="#2a3a92" stroke-width="1.4"/><g fill="#8b92cc"><rect x="412.9" y="72.2" width="1.7" height="4.2"/><rect x="415.3" y="69.4" width="1.7" height="7"/><rect x="417.7" y="71" width="1.7" height="5.4"/></g>
<g transform="translate(454.5 62.5) scale(1.03)" fill="none" stroke="#fff" stroke-width="1.1" stroke-linejoin="round" stroke-linecap="round"><path d="M9.2 15.1H2.1a1.5 1.5 0 0 1-1.5-1.8l1.4-8.1h10l.7 3.3"/><path d="M4 5.2V3.7a2.95 2.95 0 0 1 5.9 0v1.5"/><path d="M10.6 9.7l4.2 4.2m0-4.2l-4.2 4.2" stroke-width="1.35"/></g>
<path transform="translate(200.58 112.18) scale(0.7100)" fill="#fff"  d="M21.41 11.58l-9-9C12.05 2.22 11.55 2 11 2H4c-1.1 0-2 .9-2 2v7c0 .55.22 1.05.59 1.42l9 9c.36.36.86.58 1.41.58.55 0 1.05-.22 1.41-.59l7-7c.37-.36.59-.86.59-1.41 0-.55-.23-1.06-.59-1.42zM5.5 7C4.67 7 4 6.33 4 5.5S4.67 4 5.5 4 7 4.67 7 5.5 6.33 7 5.5 7z"/>
<path transform="translate(323.41 111.92) scale(0.7523)" fill="#fff"  d="M4 10.5c-.83 0-1.5.67-1.5 1.5s.67 1.5 1.5 1.5 1.5-.67 1.5-1.5-.67-1.5-1.5-1.5zm0-6c-.83 0-1.5.67-1.5 1.5S3.17 7.5 4 7.5 5.5 6.83 5.5 6 4.83 4.5 4 4.5zm0 12c-.83 0-1.5.68-1.5 1.5s.68 1.5 1.5 1.5 1.5-.68 1.5-1.5-.67-1.5-1.5-1.5zM7 19h14v-2H7v2zm0-6h14v-2H7v2zm0-8v2h14V5H7z"/>
<path transform="translate(464.91 112.83) scale(0.7244)" fill="#fff"  d="M19 3h-4.18C14.4 1.84 13.3 1 12 1s-2.4.84-2.82 2H5a2 2 0 0 0-2 2v14a2 2 0 0 0 2 2h14a2 2 0 0 0 2-2V5a2 2 0 0 0-2-2zm-7 0a1 1 0 1 1 0 2 1 1 0 0 1 0-2z"/>
<path transform="translate(598.30 112.10) scale(0.6500)" fill="#000"  d="M12 2C6.48 2 2 6.48 2 12s4.48 10 10 10 10-4.48 10-10S17.52 2 12 2zm1 15h-2v-6h2v6zm0-8h-2V7h2v2z"/>
<path transform="translate(1423.18 63.28) scale(0.6561)" fill="#2a3a92"  d="M16.53 11.06L15.47 10l-4.88 4.88-2.12-2.12-1.06 1.06L10.59 17l5.94-5.94zM19 3h-1V1h-2v2H8V1H6v2H5c-1.11 0-1.99.9-1.99 2L3 19c0 1.1.89 2 2 2h14c1.1 0 2-.9 2-2V5c0-1.1-.9-2-2-2zm0 16H5V8h14v11z"/>
<path transform="translate(1615.19 62.79) scale(0.6839)" fill="#2a3a92"  d="M9 11H7v2h2v-2zm4 0h-2v2h2v-2zm4 0h-2v2h2v-2zm2-7h-1V2h-2v2H8V2H6v2H5c-1.11 0-1.99.9-1.99 2L3 20c0 1.1.89 2 2 2h14c1.1 0 2-.9 2-2V6c0-1.1-.9-2-2-2zm0 16H5V9h14v11z"/>
<path transform="translate(1763.09 63.25) scale(0.6589)" fill="#2a3a92"  d="M19 3h-4.18C14.4 1.84 13.3 1 12 1c-1.3 0-2.4.84-2.82 2H5c-1.1 0-2 .9-2 2v14c0 1.1.9 2 2 2h14c1.1 0 2-.9 2-2V5c0-1.1-.9-2-2-2zm-7 0c.55 0 1 .45 1 1s-.45 1-1 1-1-.45-1-1 .45-1 1-1zm2 14H7v-2h7v2zm3-4H7v-2h10v2zm0-4H7V7h10v2z"/>
<path d="M1727.3 76.1l4.15 4.3 4.15-4.3M1875.3 76.1l4.2 4.3 4.2-4.3" fill="none" stroke="#555" stroke-width="1.2"/>
<path transform="translate(215.45 190.70) scale(0.6917)" fill="#fff"  d="M19 3H5c-1.1 0-2 .9-2 2v14c0 1.1.9 2 2 2h14c1.1 0 2-.9 2-2V5c0-1.1-.9-2-2-2zM9 17H7v-7h2v7zm4 0h-2V7h2v10zm4 0h-2v-4h2v4z"/>
<path transform="translate(304.22 190.77) scale(0.6694)" fill="#2a3a92"  d="M19 5v14H5V5h14m1.1-2H3.9c-.5 0-.9.4-.9.9v16.2c0 .4.4.9.9.9h16.2c.4 0 .9-.5.9-.9V3.9c0-.5-.5-.9-.9-.9zM11 7h6v2h-6V7zm0 4h6v2h-6v-2zm0 4h6v2h-6zM7 7h2v2H7zm0 4h2v2H7zm0 4h2v2H7z"/>
<rect x="251.8" y="1018.8" width="22.2" height="3.9" fill="#ff5858" fill-opacity="0.5"/><path d="M251.8 1018.8h22.2" stroke="#ff5858" stroke-width="2"/><circle cx="262.90000000000003" cy="1018.8" r="2" fill="#ff5858"/>
<rect x="342" y="1018.8" width="22.2" height="3.9" fill="#f9c53e" fill-opacity="0.5"/><path d="M342 1018.8h22.2" stroke="#f9c53e" stroke-width="2"/><circle cx="353.1" cy="1018.8" r="2" fill="#f9c53e"/>
<rect x="416" y="1018.8" width="22.2" height="3.9" fill="#fbee3c" fill-opacity="0.5"/><path d="M416 1018.8h22.2" stroke="#fbee3c" stroke-width="2"/><circle cx="427.1" cy="1018.8" r="2" fill="#fbee3c"/>
<rect x="478" y="1018.8" width="22.2" height="3.9" fill="#8be464" fill-opacity="0.5"/><path d="M478 1018.8h22.2" stroke="#8be464" stroke-width="2"/><circle cx="489.1" cy="1018.8" r="2" fill="#8be464"/>
<rect x="563.6" y="1018.8" width="22.2" height="3.9" fill="#1b031d" fill-opacity="0.5"/><path d="M563.6 1018.8h22.2" stroke="#1b031d" stroke-width="2"/><circle cx="574.7" cy="1018.8" r="2" fill="#1b031d"/>
<rect x="662.5" y="1018.8" width="22.2" height="3.9" fill="#7b5e7c" fill-opacity="0.5"/><path d="M662.5 1018.8h22.2" stroke="#7b5e7c" stroke-width="2"/><circle cx="673.6" cy="1018.8" r="2" fill="#7b5e7c"/>
<rect x="791.4" y="1018.8" width="22.2" height="3.9" fill="#938273" fill-opacity="0.5"/><path d="M791.4 1018.8h22.2" stroke="#938273" stroke-width="2"/><circle cx="802.5" cy="1018.8" r="2" fill="#938273"/>
<rect x="894.5" y="1018.8" width="22.2" height="3.9" fill="#e8eb87" fill-opacity="0.5"/><path d="M894.5 1018.8h22.2" stroke="#e8eb87" stroke-width="2"/><circle cx="905.6" cy="1018.8" r="2" fill="#e8eb87"/>
<rect x="988.4" y="1018.8" width="22.2" height="3.9" fill="#b9f18e" fill-opacity="0.5"/><path d="M988.4 1018.8h22.2" stroke="#b9f18e" stroke-width="2"/><circle cx="999.5" cy="1018.8" r="2" fill="#b9f18e"/>
<rect x="1090.9" y="1018.8" width="22.2" height="3.9" fill="#2276ae" fill-opacity="0.5"/><path d="M1090.9 1018.8h22.2" stroke="#2276ae" stroke-width="2"/><circle cx="1102.0" cy="1018.8" r="2" fill="#2276ae"/>
<rect x="1191.3" y="1018.8" width="22.2" height="3.9" fill="#58b7fe" fill-opacity="0.5"/><path d="M1191.3 1018.8h22.2" stroke="#58b7fe" stroke-width="2"/><circle cx="1202.3999999999999" cy="1018.8" r="2" fill="#58b7fe"/>
<rect x="1250" y="1018.8" width="22.2" height="3.9" fill="#c27a1e" fill-opacity="0.5"/><path d="M1250 1018.8h22.2" stroke="#c27a1e" stroke-width="2"/><circle cx="1261.1" cy="1018.8" r="2" fill="#c27a1e"/>
<rect x="1311.8" y="1018.8" width="22.2" height="3.9" fill="#ffab40" fill-opacity="0.5"/><path d="M1311.8 1018.8h22.2" stroke="#ffab40" stroke-width="2"/><circle cx="1322.8999999999999" cy="1018.8" r="2" fill="#ffab40"/>
<rect x="1373.4" y="1018.8" width="22.2" height="3.9" fill="#ee6a45" fill-opacity="0.5"/><path d="M1373.4 1018.8h22.2" stroke="#ee6a45" stroke-width="2"/><circle cx="1384.5" cy="1018.8" r="2" fill="#ee6a45"/>
<g transform="translate(1595.9 228.20000000000002) scale(1.04)" fill="none" stroke="#fff" stroke-width="1.1" stroke-linejoin="round" stroke-linecap="round"><path d="M9.2 15.1H2.1a1.5 1.5 0 0 1-1.5-1.8l1.4-8.1h10l.7 3.3"/><path d="M4 5.2V3.7a2.95 2.95 0 0 1 5.9 0v1.5"/><path d="M10.6 9.7l4.2 4.2m0-4.2l-4.2 4.2" stroke-width="1.35"/></g>
<g transform="translate(1595.9 315.3) scale(1.04)" fill="none" stroke="#fff" stroke-width="1.1" stroke-linejoin="round" stroke-linecap="round"><path d="M9.2 15.1H2.1a1.5 1.5 0 0 1-1.5-1.8l1.4-8.1h10l.7 3.3"/><path d="M4 5.2V3.7a2.95 2.95 0 0 1 5.9 0v1.5"/><path d="M10.3 12.2l1.8 1.8 3.4-3.9" stroke-width="1.3"/></g>
<circle cx="1603.4" cy="462.4" r="6.6" fill="none" stroke="#fff" stroke-width="2.05"/><path d="M1602.8000000000002 463.0V456.2A6.4 6.4 0 0 1 1609.6000000000001 463.0Z" fill="#fff"/><path d="M1600.6000000000001 451.79999999999995h5.6l-1.5 2.4h-2.6z" fill="#fff"/><path d="M1607.9 454.0l2.6 2.3" stroke="#fff" stroke-width="2"/>
<circle cx="1603.4" cy="549.95" r="6.6" fill="none" stroke="#fff" stroke-width="2.05"/><path d="M1602.8000000000002 550.5500000000001V543.75A6.4 6.4 0 0 1 1609.6000000000001 550.5500000000001Z" fill="#fff"/><path d="M1600.6000000000001 539.35h5.6l-1.5 2.4h-2.6z" fill="#fff"/><path d="M1607.9 541.5500000000001l2.6 2.3" stroke="#fff" stroke-width="2"/></svg>
</body></html>
